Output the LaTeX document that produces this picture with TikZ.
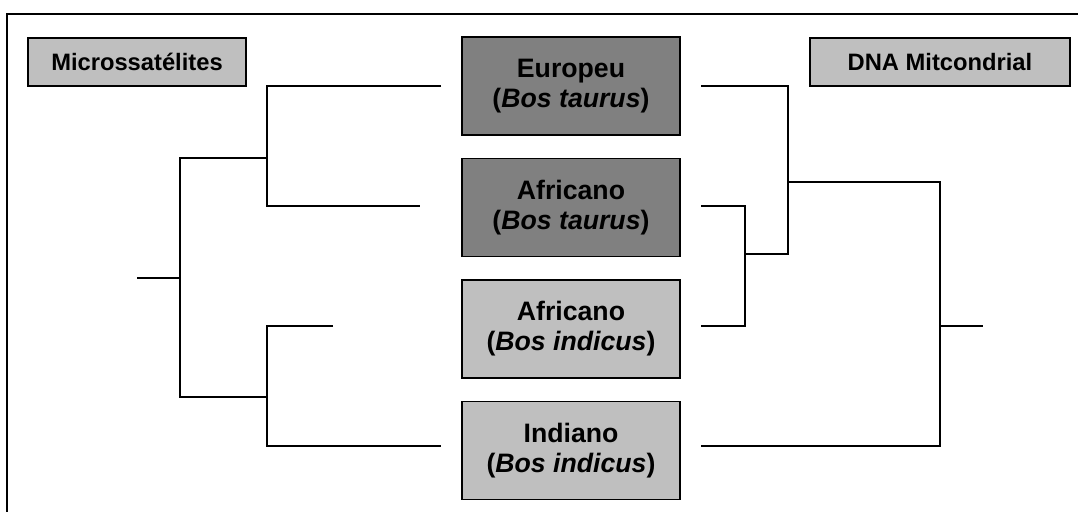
\documentclass[tikz,border=0pt]{standalone}
\usepackage{fontspec}
\setmainfont{Liberation Sans}
\usetikzlibrary{positioning}

\begin{document}
\begin{tikzpicture}[x=0.75pt,y=-0.75pt,
		taxbox/.style={draw,line width=1.1pt,align=center,minimum width=163.5pt,minimum height=73.5pt,inner sep=0pt,
			font=\fontsize{20}{22.5}\selectfont\bfseries},
		taurusbox/.style={taxbox,fill=black!50},
		indicusbox/.style={taxbox,fill=black!25},
		labelbox/.style={draw,line width=1.1pt,fill=black!25,minimum height=36pt,inner sep=0pt,
			font=\fontsize{17.8}{21}\selectfont\bfseries},
		branch/.style={line width=1.1pt}]
		\useasboundingbox (0,0) rectangle (1078,511);
		\draw[line width=1.5pt] (7,530) -- (7,14) -- (1090,14);

		\node[labelbox,minimum width=163.5pt]	(micro)	at (137,62)	{Microssatélites};
		\node[labelbox,minimum width=195pt]		(dna)	at (940,62)	{DNA Mitcondrial};

		\node[taurusbox]						(eur)	at (571,86)	{Europeu\\(\textit{Bos taurus})};
		\node[taurusbox,node distance=16.5pt,below=of eur]	(aft)	{Africano\\(\textit{Bos taurus})};
		\node[indicusbox,node distance=16.5pt,below=of aft]	(afi)	{Africano\\(\textit{Bos indicus})};
		\node[indicusbox,node distance=16.5pt,below=of afi]	(ind)	{Indiano\\(\textit{Bos indicus})};

		% microssatelites
		\coordinate (eurL)	at (441,86);
		\coordinate (aftL)	at (420,206);
		\coordinate (afiL)	at (333,326);
		\coordinate (indL)	at (441,446);
		\coordinate (ja)	at (267,158);
		\coordinate (jb)	at (267,397);
		\coordinate (jr)	at (180,278);
		\coordinate (rootL)	at (137,278);

		\draw[branch] (eurL) -| (ja) |- (aftL);
		\draw[branch] (afiL) -| (jb) |- (indL);
		\draw[branch] (ja) -| (jr) |- (jb);
		\draw[branch] (rootL) -- (jr);

		% DNA mitocondrial
		\coordinate (eurR)	at (701,86);
		\coordinate (aftR)	at (701,206);
		\coordinate (afiR)	at (701,326);
		\coordinate (indR)	at (701,446);
		\coordinate (jc)	at (745,254);
		\coordinate (jd)	at (788,182);
		\coordinate (je)	at (940,326);
		\coordinate (rootR)	at (983,326);

		\draw[branch] (aftR) -| (jc) |- (afiR);
		\draw[branch] (eurR) -| (jd) |- (jc);
		\draw[branch] (jd) -| (je) |- (indR);
		\draw[branch] (je) -- (rootR);
	\end{tikzpicture}
\end{document}
